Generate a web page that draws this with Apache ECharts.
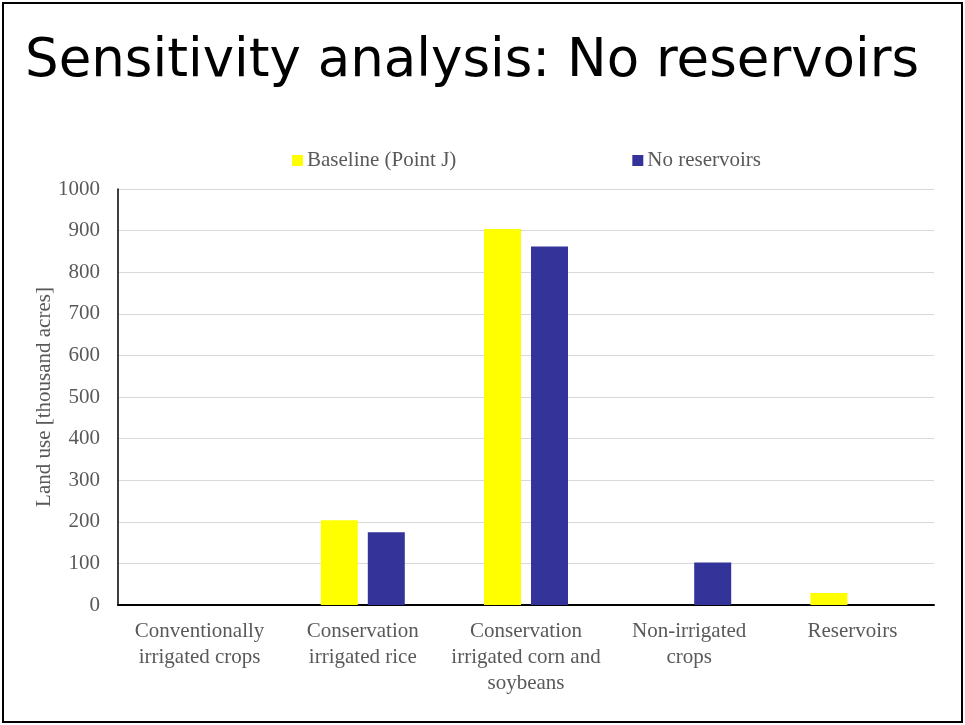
<!DOCTYPE html>
<html>
<head>
<meta charset="utf-8">
<script src="https://cdn.jsdelivr.net/npm/echarts@6/dist/echarts.min.js"></script>
<style>
  html, body { margin: 0; padding: 0; background: #fff; }
  #chart { width: 965px; height: 725px; }
</style>
</head>
<body>
<div id="chart"></div>
<script>
// Land use by category, thousand acres
const categories = [
  'Conventionally\nirrigated crops',
  'Conservation\nirrigated rice',
  'Conservation\nirrigated corn and\nsoybeans',
  'Non-irrigated\ncrops',
  'Reservoirs'
];
const baseline = [0, 204, 904, 0, 29];
const noReservoirs = [0, 175, 862, 102, 0];
const yTicks = [0, 100, 200, 300, 400, 500, 600, 700, 800, 900, 1000];

const textColor = '#595959';
const serif = '"Liberation Serif", "Times New Roman", serif';

const chart = echarts.init(document.getElementById('chart'));
chart.setOption({
  animation: false,
  backgroundColor: '#fff',
  title: {
    text: 'Sensitivity analysis: No reservoirs',
    left: 20,
    top: 31,
    textStyle: {
      fontFamily: '"DejaVu Sans", sans-serif',
      fontWeight: 'normal',
      fontSize: 53,
      color: '#000'
    }
  },
  graphic: [{
    type: 'rect',
    shape: { x: 3, y: 3, width: 959, height: 719 },
    style: { fill: 'none', stroke: '#000', lineWidth: 2 },
    silent: true
  }],
  legend: {
    top: 145,
    left: 287,
    itemGap: 176,
    itemWidth: 11,
    itemHeight: 11,
    icon: 'rect',
    textStyle: { fontFamily: serif, fontSize: 21, color: textColor, padding: [0, 0, 0, -1] },
    data: ['Baseline (Point J)', 'No reservoirs']
  },
  grid: { left: 118, right: 31, top: 189, bottom: 120, containLabel: false },
  xAxis: {
    type: 'category',
    data: categories,
    axisLine: { lineStyle: { color: '#000', width: 2 } },
    axisTick: { show: false },
    axisLabel: {
      interval: 0,
      margin: 13,
      fontFamily: serif,
      fontSize: 21,
      lineHeight: 26,
      color: textColor
    }
  },
  yAxis: {
    type: 'value',
    min: 0,
    max: 1000,
    interval: 100,
    name: 'Land use [thousand acres]',
    nameLocation: 'middle',
    nameGap: 63,
    nameMoveOverlap: false,
    nameTextStyle: { fontFamily: serif, fontSize: 21, color: textColor },
    axisLine: { show: true, lineStyle: { color: '#000', width: 1.5 } },
    axisTick: { show: false },
    axisLabel: {
      margin: 18,
      fontFamily: serif,
      fontSize: 21,
      color: textColor,
      formatter: v => (yTicks.includes(v) ? String(v) : '')
    },
    splitLine: { lineStyle: { color: '#d9d9d9', width: 1 } }
  },
  series: [
    {
      name: 'Baseline (Point J)',
      type: 'bar',
      data: baseline,
      barWidth: 37,
      barGap: '27%',
      itemStyle: { color: '#ffff00' }
    },
    {
      name: 'No reservoirs',
      type: 'bar',
      data: noReservoirs,
      barWidth: 37,
      barGap: '27%',
      itemStyle: { color: '#333399' }
    }
  ]
});
</script>
</body>
</html>
